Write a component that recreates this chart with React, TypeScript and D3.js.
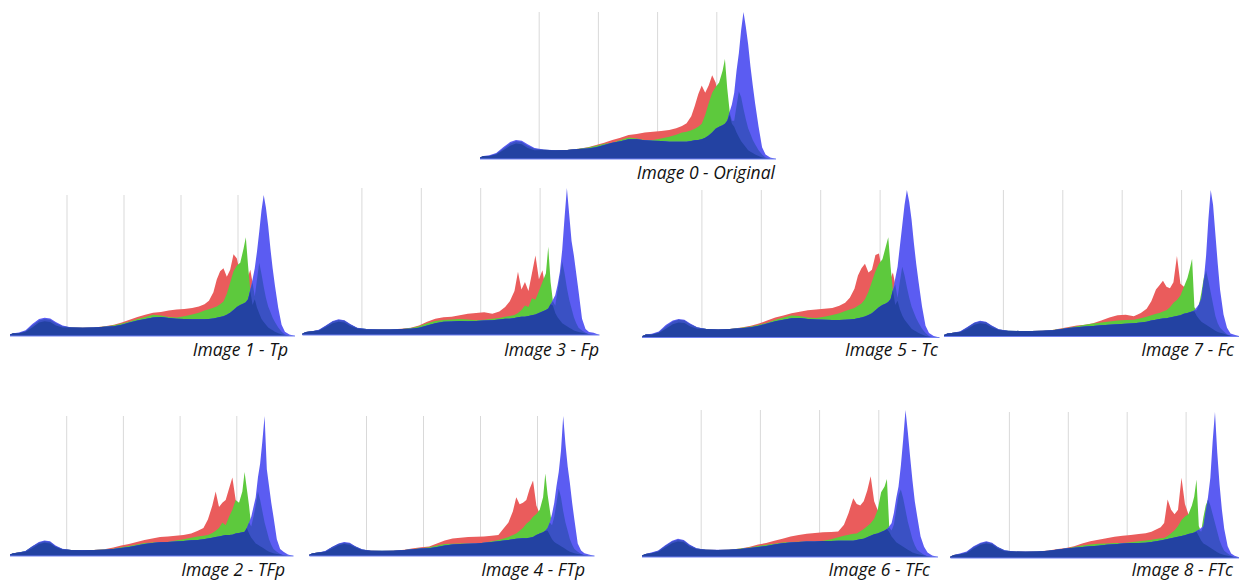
import React from "react";
import * as d3 from "d3";

// histogram bin positions (0-255 intensity), denser around the peaks
const bins = [
  0, 3, 8, 14, 20, 26, 31, 36, 41, 47,
  55, 65, 75, 85, 93, 100, 107, 114, 121, 128,
  135, 142, 149, 156, 163, 169, 174, 178, 182, 185,
  188, 191, 194, 197, 200, 203, 206, 209, 211, 213,
  215, 217, 219, 221, 223, 225, 227, 229, 231, 233,
  235, 237, 240, 243, 246, 250, 255,
];

// counts as % of the tallest bin in each image
const red0 = [
  1, 2, 2, 3, 6, 9, 10.5, 10, 7.5, 6,
  6.2, 6, 6.2, 7, 8, 9.5, 11, 13, 14.5, 16.3,
  17, 18, 18.6, 19, 19.7, 21, 22.5, 24.3, 29, 36,
  44, 50, 45, 50, 57, 52, 40, 34, 32, 33,
  30, 26, 22, 18, 15, 12, 10, 8, 6, 5,
  4, 3, 2, 1, 0.5, 0, 0,
];
const green0 = [
  1, 2, 2, 3.5, 7, 10.5, 12, 11.5, 9, 7,
  6.3, 6, 6.2, 7, 7.8, 9, 10.4, 11, 13, 14.7,
  14, 13, 13, 14, 15.2, 16.5, 18, 18.6, 19.5, 20.5,
  22, 24, 30, 38, 45, 49, 52, 60, 68, 48,
  33, 24, 26, 36, 46, 42, 34, 27, 21, 17,
  13, 10, 6, 3, 1, 0, 0,
];
const blue0 = [
  1, 2, 2.5, 4, 8, 11.5, 13, 12.5, 10, 7.5,
  6.5, 6, 6.2, 6.8, 7.2, 8, 9.5, 11, 12, 13.4,
  13.5, 12.8, 12.5, 12.2, 11.8, 11.8, 11.8, 11.8, 12.2, 12.7,
  13, 13.5, 14.5, 16, 18, 20.5, 22, 23, 24, 26,
  32, 37, 45, 60, 72, 88, 100, 90, 78, 63,
  50, 38, 22, 8, 3, 1, 0,
];

const red1 = [
  1, 2, 2, 3, 6, 9.5, 10.5, 10, 7.5, 6,
  6, 5.8, 6, 7, 8, 9.5, 11.5, 13.5, 15, 16.5,
  17, 18, 18.8, 19.2, 19.8, 21, 22.5, 25, 31, 40,
  46, 48, 42, 47, 58, 55, 44, 38, 36, 42,
  47, 38, 26, 20, 16, 12, 10, 8, 6, 5,
  4, 3, 2, 1, 0.5, 0, 0,
];
const green1 = [
  1, 2, 2, 3.5, 7.5, 11, 12, 11.5, 9, 7,
  6, 5.8, 6, 6.8, 7.6, 8.8, 10.2, 12, 13.5, 15,
  14.5, 13.5, 13.2, 14, 15.2, 16.5, 18, 19, 20, 21,
  22.5, 24.5, 30, 38, 46, 50, 52, 62, 70, 50,
  32, 22, 28, 40, 52, 44, 35, 27, 21, 17,
  13, 10, 6, 3, 1, 0, 0,
];
const blue1 = [
  1, 2, 2.5, 4, 8.5, 12, 13, 12.5, 10, 7.5,
  6, 5.8, 6, 6.5, 7, 8, 9.5, 11, 12, 13.2,
  13.5, 12.8, 12.3, 12, 11.8, 11.8, 11.8, 12, 12.4, 13,
  13.4, 14, 15, 16.5, 18.5, 20.5, 22, 23, 24, 26,
  33, 40, 48, 60, 74, 89, 100, 91, 78, 62,
  48, 36, 20, 8, 3, 1, 0,
];

const red2 = [
  1, 2, 2.5, 3, 5.5, 8.5, 9.5, 9, 6.5, 4.6,
  4.2, 4.1, 4.2, 4.8, 6, 7.5, 8.6, 10, 11.5, 12.5,
  13.5, 14, 14.5, 15, 16, 18, 20, 26, 36, 46,
  35, 38, 40, 48, 56, 40, 36, 28, 24, 20,
  16, 13, 11, 9, 8, 7, 6, 5, 4, 3,
  2.5, 2, 1.5, 1, 0.5, 0, 0,
];
const green2 = [
  1, 2, 2.5, 3.5, 6.8, 9.5, 10.5, 10, 7, 5,
  4.3, 4.2, 4.3, 4.6, 5.2, 6.2, 7.2, 8.3, 9.2, 9.7,
  10, 10, 11, 12, 13, 14, 14.5, 15, 16.5, 18,
  20, 24, 22, 28, 33, 40, 38, 46, 60, 48,
  36, 21, 28, 36, 46, 40, 32, 24, 18, 12,
  8, 5, 3, 1.5, 0.5, 0, 0,
];
const blue2 = [
  1, 2, 2.5, 3.5, 7, 10, 11, 10.5, 7.5, 5.2,
  4.3, 4.2, 4.3, 4.5, 5, 5.8, 6.5, 7.5, 8.5, 9.3,
  9.8, 10, 10.3, 10.8, 11.2, 11.4, 12, 12.5, 13, 13.5,
  14, 14.5, 15, 15, 15.2, 16, 16.5, 17, 17.4, 20,
  24, 28, 35, 42, 56, 66, 82, 100, 62, 50,
  38, 28, 12, 5, 3, 1, 0,
];

const red3 = [
  1, 2, 2.5, 3, 5.2, 8, 9, 8.5, 6.2, 4.4,
  3.8, 3.7, 3.8, 4.2, 5, 6.5, 9, 11, 12, 12.5,
  13.5, 14.5, 15, 15.5, 14.5, 16, 19, 23, 30, 43,
  31, 36, 30, 42, 54, 38, 44, 30, 33, 25,
  20, 15, 12, 10, 8, 7, 6, 5, 4, 3,
  2.5, 2, 1.5, 1, 0.5, 0, 0,
];
const green3 = [
  1, 2, 2.5, 3.3, 6.2, 9.2, 10.2, 9.7, 7.2, 4.8,
  4, 3.8, 3.8, 4.1, 4.8, 6, 8, 9.5, 10.2, 10.5,
  10.8, 10.5, 10, 10.4, 11, 11.5, 12.5, 13, 13.6, 15,
  17, 20, 19, 25, 24, 30, 36, 42, 60, 36,
  23, 20, 30, 40, 50, 42, 32, 24, 18, 12,
  8, 5, 3, 1.5, 0.5, 0, 0,
];
const blue3 = [
  1, 2, 2.5, 3.5, 6.5, 9.5, 10.7, 10, 7.5, 5,
  4, 3.8, 3.8, 4, 4.3, 5, 6.5, 8, 9, 9.2,
  9.5, 9.4, 9.5, 9.8, 10, 10.5, 11, 11, 11.5, 12,
  12.5, 12.5, 13, 13.5, 14, 15, 16, 17, 18, 21,
  24, 27, 34, 43, 58, 80, 100, 82, 64, 54,
  42, 30, 11, 4, 2, 1.5, 0,
];

const red4 = [
  1, 2, 2.5, 3, 5.2, 7.6, 8.5, 8, 6, 4.2,
  3.7, 3.6, 3.8, 4.5, 5.5, 6.3, 6.8, 9, 11, 12.5,
  13, 13.5, 13.8, 14, 14.5, 15, 20, 24, 32, 42,
  37, 38, 40, 48, 54, 36, 30, 26, 22, 18,
  15, 12, 10, 9, 8, 7, 6, 5, 4, 3,
  2.5, 2, 1.5, 1, 0.5, 0, 0,
];
const green4 = [
  1, 2, 2.5, 3.3, 6.2, 8.6, 9.5, 9, 6.8, 4.6,
  3.8, 3.7, 3.8, 4.3, 5, 5.6, 6.2, 7.5, 8.5, 8.8,
  9, 9, 9, 9.5, 10.5, 11.5, 12.5, 13.5, 15, 16,
  18, 20, 23, 25, 28, 30, 33, 42, 59, 44,
  33, 22, 28, 38, 48, 42, 32, 24, 18, 12,
  8, 5, 3, 1.5, 0.5, 0, 0,
];
const blue4 = [
  1, 2, 2.5, 3.5, 6.5, 9, 10, 9.5, 7, 4.8,
  3.8, 3.7, 3.8, 4.2, 4.8, 5.3, 5.6, 6.5, 7.5, 8.2,
  8.6, 8.8, 9, 9.5, 10, 10.5, 11, 11.5, 12, 12.3,
  12.5, 12.6, 12.6, 13, 13.5, 15, 16, 17, 18, 20,
  24, 30, 38, 50, 60, 75, 100, 80, 64, 52,
  38, 26, 9, 4, 2, 1, 0,
];

const red5 = [
  1, 2, 2, 3, 6, 9, 10.2, 9.8, 7.5, 6,
  5.8, 5.5, 5.8, 6.8, 8, 9.5, 11.5, 13.5, 15, 16.5,
  17.5, 18.5, 19, 19.5, 20, 21.5, 23.5, 27, 33, 42,
  47, 50, 44, 46, 56, 57, 44, 37, 35, 40,
  44, 36, 25, 19, 15, 12, 10, 8, 6, 5,
  4, 3, 2, 1, 0.5, 0, 0,
];
const green5 = [
  1, 2, 2, 3.5, 7.5, 10.8, 12, 11.5, 9, 6.8,
  5.8, 5.5, 5.8, 6.6, 7.4, 8.6, 10, 12, 13.5, 15,
  14.5, 13.5, 13.2, 14, 15.2, 16.5, 18, 19, 20, 21.5,
  23, 26, 31, 38, 45, 50, 53, 62, 68, 48,
  32, 22, 27, 38, 48, 42, 34, 27, 21, 17,
  13, 10, 6, 3, 1, 0, 0,
];
const blue5 = [
  1, 2, 2.5, 4, 8.5, 11.5, 12.5, 12, 9.5, 7,
  5.8, 5.5, 5.8, 6.3, 7, 8, 9.5, 11, 12, 13,
  13.2, 12.6, 12.2, 12, 11.8, 11.8, 12, 12.2, 12.6, 13,
  13.5, 14.2, 15.2, 16.5, 18.5, 20.5, 22, 23, 24, 26,
  32, 40, 48, 62, 76, 90, 100, 92, 80, 64,
  50, 38, 21, 8, 3, 1, 0,
];

const red6 = [
  1, 2, 2.5, 3.5, 6.5, 9.3, 10.5, 10, 7.2, 5.3,
  4.9, 4.8, 5, 5.8, 7, 8.5, 9.5, 11, 12.5, 14,
  15, 15.8, 16.3, 16.8, 17, 17.4, 22, 30, 40, 36,
  35, 38, 45, 55, 38, 32, 28, 24, 20, 17,
  14, 12, 10, 9, 8, 7, 6, 5, 4, 3,
  2.5, 2, 1.5, 1, 0.5, 0, 0,
];
const green6 = [
  1, 2, 2.5, 4, 7.5, 10.5, 11.8, 11, 8, 5.8,
  4.9, 4.8, 5, 5.7, 6.5, 7.5, 8.3, 9, 9.8, 10.2,
  10.4, 10.5, 10.6, 11, 12, 13.5, 14.5, 15.2, 15.8, 16,
  17.5, 19, 21, 23, 26, 32, 44, 48, 53, 20,
  18, 22, 32, 42, 46, 40, 32, 24, 18, 12,
  8, 5, 3, 1.5, 0.5, 0, 0,
];
const blue6 = [
  1, 2, 3, 4.5, 8, 11, 12.4, 11.5, 8.5, 6,
  5, 4.9, 5, 5.5, 6.2, 6.8, 7.5, 8.5, 9.3, 9.8,
  10.2, 10.5, 10.6, 10.8, 10.8, 11, 11, 11, 11, 11.5,
  12, 12.5, 13.5, 14.5, 15.5, 16, 17, 18, 19, 21,
  23, 30, 40, 48, 62, 80, 100, 85, 68, 52,
  38, 28, 14, 7, 3, 1, 0,
];

const red7 = [
  1, 2, 2.5, 3, 5.2, 8, 9, 8.5, 6.2, 4.4,
  3.8, 3.7, 3.8, 4, 4.5, 5.5, 6.5, 7.5, 8, 9,
  11, 13, 14.5, 14.8, 13.8, 16, 19, 24, 32, 35,
  38, 34, 33, 37, 55, 36, 34, 28, 24, 20,
  17, 14, 12, 10, 9, 8, 7, 6, 5, 4,
  3, 2.5, 2, 1, 0.5, 0, 0,
];
const green7 = [
  1, 2, 2.5, 3.3, 6.2, 9.2, 10.2, 9.7, 7.2, 4.8,
  4, 3.8, 3.8, 4, 4.4, 5.2, 6, 7, 8, 8.8,
  9.5, 10.3, 11, 11.2, 11.5, 12.5, 13.5, 14.5, 15.5, 16,
  17, 18, 20, 23, 25, 28, 34, 40, 46, 53,
  20, 18, 22, 30, 40, 45, 38, 30, 22, 14,
  9, 6, 3.5, 1.5, 0.5, 0, 0,
];
const blue7 = [
  1, 2, 2.5, 3.5, 6.5, 9.5, 10.7, 10, 7.5, 5,
  4, 3.8, 3.8, 4, 4.3, 5, 5.8, 6.3, 6.8, 7.2,
  7.6, 8, 8.4, 8.7, 9, 9.5, 10, 11, 11.5, 12,
  12.3, 12.5, 13, 13.5, 14, 14.5, 15.5, 16, 16.5, 17,
  18, 20, 22, 26, 38, 55, 80, 100, 90, 70,
  50, 32, 15, 6, 2, 1, 0,
];

const red8 = [
  1, 2, 2.5, 3.5, 6.5, 9, 10, 9.2, 6.5, 4.7,
  4.4, 4.3, 4.5, 5.2, 6.2, 6.8, 8, 10, 11.4, 12.5,
  13.5, 14.5, 15.3, 15.8, 16.5, 17, 18, 19.5, 21, 24,
  40, 33, 30, 33, 55, 37, 30, 26, 22, 18,
  15, 12, 10, 9, 8, 7, 6, 5, 4, 3,
  2.5, 2, 1.5, 1, 0.5, 0, 0,
];
const green8 = [
  1, 2, 2.5, 4, 7.5, 10, 11, 10, 7.3, 5.1,
  4.4, 4.3, 4.5, 5, 5.8, 6.5, 7.5, 8.5, 9.3, 9.8,
  10, 10.2, 10.3, 10.8, 11.5, 12, 12.5, 13, 13.5, 13.7,
  15, 17, 19, 22, 26, 28.5, 30, 36, 42, 53.7,
  22, 18, 28, 36, 40, 36, 30, 24, 18, 12,
  8, 5, 3, 1.5, 0.5, 0, 0,
];
const blue8 = [
  1, 2, 3, 4.5, 8, 10.5, 11.4, 10.5, 7.5, 5.3,
  4.5, 4.4, 4.5, 5, 5.8, 6.5, 7, 7.5, 8, 8.4,
  9, 9.5, 10, 10.3, 10.3, 10.5, 11, 11.5, 12, 12.5,
  13, 13.5, 14, 14.5, 15, 15.5, 16.5, 17, 17.5, 18.5,
  19.4, 20.5, 22, 32, 42, 55, 80, 100, 72, 50,
  33, 20, 8, 3, 1.5, 0.5, 0,
];

const gridValues = [51, 102, 153, 204];

const panels = [
  { title: "Image 0 - Original", red: red0, green: green0, blue: blue0 },
  { title: "Image 1 - Tp", red: red1, green: green1, blue: blue1 },
  { title: "Image 3 - Fp", red: red3, green: green3, blue: blue3 },
  { title: "Image 5 - Tc", red: red5, green: green5, blue: blue5 },
  { title: "Image 7 - Fc", red: red7, green: green7, blue: blue7 },
  { title: "Image 2 - TFp", red: red2, green: green2, blue: blue2 },
  { title: "Image 4 - FTp", red: red4, green: green4, blue: blue4 },
  { title: "Image 6 - TFc", red: red6, green: green6, blue: blue6 },
  { title: "Image 8 - FTc", red: red8, green: green8, blue: blue8 },
];

// where each histogram sits on the page (same order as panels)
const frames = [
  { left: 480, width: 296, top: 12, base: 159, labelX: 775, labelY: 179 },
  { left: 10, width: 285, top: 195, base: 336, labelX: 288, labelY: 356 },
  { left: 302.5, width: 297, top: 188, base: 335, labelX: 599, labelY: 356 },
  { left: 642.5, width: 297, top: 190, base: 337.5, labelX: 938, labelY: 356 },
  { left: 944, width: 297, top: 190, base: 336.5, labelX: 1234, labelY: 356 },
  { left: 10, width: 283.5, top: 416, base: 556, labelX: 285, labelY: 575.5 },
  { left: 309.5, width: 285, top: 416, base: 556, labelX: 585, labelY: 575.5 },
  { left: 642, width: 296, top: 410, base: 557, labelX: 930, labelY: 575.5 },
  { left: 950.5, width: 294.5, top: 412, base: 558, labelX: 1233, labelY: 575.5 },
];

const colors = {
  red: "#ea5c5c",
  green: "#5dc93d",
  blue: "#5b5cf2",
  overlap: "#3a51c4",
  common: "#2342a2",
  grid: "#d9d9d9",
};

type Panel = (typeof panels)[number];
type Frame = (typeof frames)[number];

function Histogram({ panel, frame }: { panel: Panel; frame: Frame }) {
  const x = d3.scaleLinear().domain([0, 255]).range([frame.left, frame.left + frame.width]);
  const y = d3.scaleLinear().domain([0, 100]).range([frame.base, frame.top]);

  const area = d3
    .area<number>()
    .x((_, i) => x(bins[i]))
    .y0(frame.base)
    .y1((d) => y(d));

  // blue drawn over red/green goes darker, all three together give the navy base
  const overlap = panel.blue.map((b, i) => Math.min(b, Math.max(panel.red[i], panel.green[i])));
  const common = panel.blue.map((b, i) => Math.min(b, panel.red[i], panel.green[i]));

  return (
    <g>
      {gridValues.map((v) => (
        <line key={v} x1={x(v)} x2={x(v)} y1={frame.top} y2={frame.base} stroke={colors.grid} strokeWidth={1} />
      ))}
      <path d={area(panel.red) ?? ""} fill={colors.red} />
      <path d={area(panel.green) ?? ""} fill={colors.green} />
      <path d={area(panel.blue) ?? ""} fill={colors.blue} />
      <path d={area(overlap) ?? ""} fill={colors.overlap} />
      <path d={area(common) ?? ""} fill={colors.common} />
      <line x1={x(0)} x2={x(255)} y1={frame.base} y2={frame.base} stroke="#6f7ff0" strokeWidth={1.2} />
      <text
        x={frame.labelX}
        y={frame.labelY}
        textAnchor="end"
        fontFamily="'Open Sans', sans-serif"
        fontStyle="italic"
        fontSize={17.5}
        fill="#111"
      >
        {panel.title}
      </text>
    </g>
  );
}

export default function App() {
  return (
    <svg
      width={1239}
      height={581}
      style={{ position: "absolute", left: 0, top: 0, background: "#fff" }}
    >
      {panels.map((p, i) => (
        <Histogram key={p.title} panel={p} frame={frames[i]} />
      ))}
    </svg>
  );
}
